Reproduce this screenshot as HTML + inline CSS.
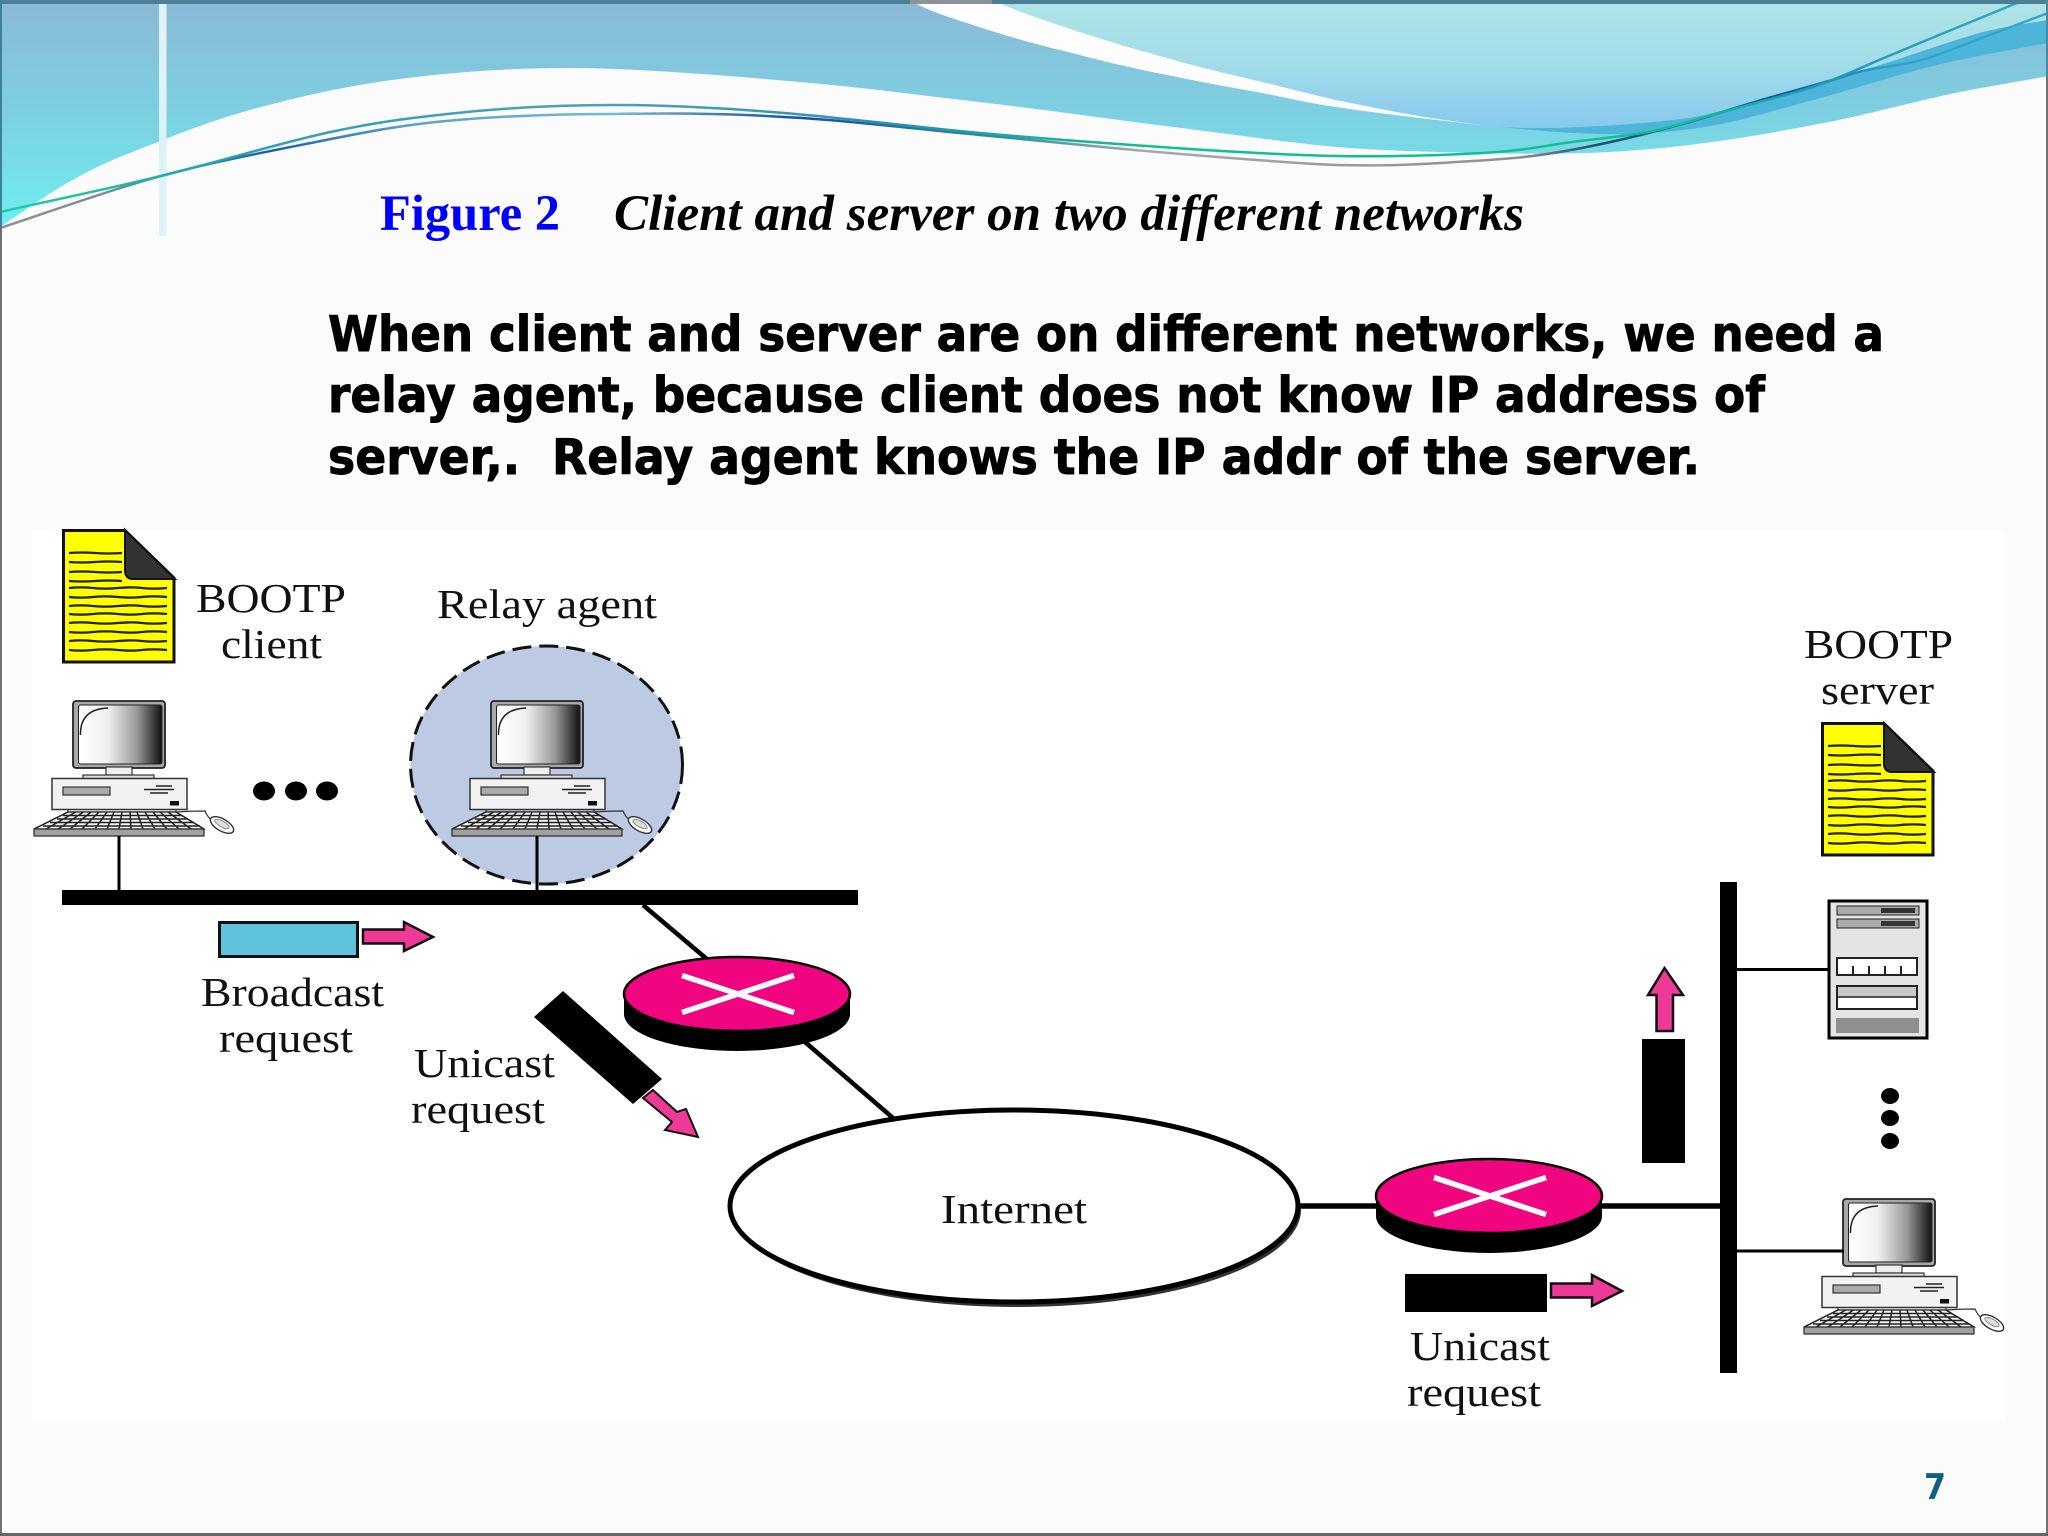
<!DOCTYPE html>
<html lang="en">
<head>
<meta charset="utf-8">
<title>Figure 2 - Client and server on two different networks</title>
<style>
html,body{margin:0;padding:0;background:#fbfbfb;width:2048px;height:1536px;overflow:hidden}
svg{display:block}
.d{font-family:"Liberation Serif",serif;font-size:41px;fill:#111}
.h{font-family:"DejaVu Sans","Liberation Sans",sans-serif;font-weight:bold;font-size:49px;fill:#000;stroke:#000;stroke-width:.9px;white-space:pre}
</style>
</head>
<body>
<svg xmlns="http://www.w3.org/2000/svg" width="2048" height="1536" viewBox="0 0 2048 1536">
<defs>
<linearGradient id="gBlue" x1="0" y1="0" x2="0" y2="230" gradientUnits="userSpaceOnUse">
<stop offset="0" stop-color="#8ab9d6"/><stop offset=".5" stop-color="#7dd0e2"/><stop offset="1" stop-color="#6eeef0"/>
</linearGradient>
<linearGradient id="gLight" x1="0" y1="0" x2="0" y2="130" gradientUnits="userSpaceOnUse">
<stop offset="0" stop-color="#afe4e6"/><stop offset=".5" stop-color="#a2dce8"/><stop offset="1" stop-color="#86c9ee"/>
</linearGradient>
<linearGradient id="gA" x1="0" y1="0" x2="2048" y2="0" gradientUnits="userSpaceOnUse">
<stop offset="0" stop-color="#20c8a8"/><stop offset=".05" stop-color="#20c0a0"/><stop offset=".09" stop-color="#2aa0b0"/><stop offset=".3" stop-color="#4ea0b8"/><stop offset=".44" stop-color="#2a90b0"/><stop offset=".56" stop-color="#10c090"/><stop offset=".82" stop-color="#10c090"/><stop offset=".9" stop-color="#2098b8"/><stop offset="1" stop-color="#35a8c8"/>
</linearGradient>
<linearGradient id="gB" x1="0" y1="0" x2="2048" y2="0" gradientUnits="userSpaceOnUse">
<stop offset="0" stop-color="#909090"/><stop offset=".05" stop-color="#808a90"/><stop offset=".08" stop-color="#2a9ab0"/><stop offset=".13" stop-color="#1a60a8"/><stop offset=".2" stop-color="#5aa0c8"/><stop offset=".3" stop-color="#78b8d8"/><stop offset=".39" stop-color="#1850a0"/><stop offset=".49" stop-color="#2a90a0"/><stop offset=".56" stop-color="#a8a8a8"/><stop offset=".74" stop-color="#909090"/><stop offset=".78" stop-color="#205070"/><stop offset=".87" stop-color="#1850b0"/><stop offset=".92" stop-color="#30a0c8"/><stop offset="1" stop-color="#30a8c8"/>
</linearGradient>
<linearGradient id="gBar" x1="0" y1="0" x2="0" y2="236" gradientUnits="userSpaceOnUse">
<stop offset="0" stop-color="#e4f2f6"/><stop offset=".55" stop-color="#dcf2f6"/><stop offset="1" stop-color="#dcf4f8"/>
</linearGradient>
<linearGradient id="gScreen" x1="0" y1="0" x2="1" y2="0">
<stop offset="0" stop-color="#ffffff"/><stop offset=".35" stop-color="#f0f0f0"/><stop offset=".7" stop-color="#999"/><stop offset="1" stop-color="#111"/>
</linearGradient>

<g id="doc">
<path d="M63.500,530.500 H125 L174,578 V662 H63.500 Z" fill="#ffff00" stroke="#111" stroke-width="3"/>
<path d="M125,530 L175,579 H133 Q125,579 125,570 Z" fill="#333" stroke="#111" stroke-width="2"/>
<g fill="none" stroke="#222" stroke-width="2.300">
<path d="M69,553 q13,-1 26,0 t27,0"/>
<path d="M69,562 q13,1 26,0 t27,0"/>
<path d="M69,572 q13,-1 26,0 t27,0"/>
<path d="M69,581 q13,1 26,0 t27,0"/>
<path d="M69,588 q12,-1.200 24,0 t25,0 t24,0 t25,0"/>
<path d="M69,597 q12,1.200 24,0 t25,0 t24,0 t25,0"/>
<path d="M69,606 q12,-1.200 24,0 t25,0 t24,0 t25,0"/>
<path d="M69,614 q12,1.200 24,0 t25,0 t24,0 t25,0"/>
<path d="M69,623 q12,-1.200 24,0 t25,0 t24,0 t25,0"/>
<path d="M69,632 q12,1.200 24,0 t25,0 t24,0 t25,0"/>
<path d="M69,641 q12,-1.200 24,0 t25,0 t24,0 t25,0"/>
<path d="M69,650 q12,1.200 24,0 t25,0 t24,0 t25,0"/>
</g>
</g>

<g id="pc">
<rect x="73" y="701" width="92" height="67" rx="3" fill="#a8a8a8" stroke="#222" stroke-width="1.800"/>
<rect x="78.500" y="705" width="83.500" height="59" rx="2" fill="url(#gScreen)" stroke="#222" stroke-width="1"/>
<path d="M80.500,735 Q80,709 108,708" fill="none" stroke="#222" stroke-width="1.500"/>
<rect x="106" y="767" width="26" height="8" fill="#eee" stroke="#333" stroke-width="1.200"/>
<rect x="83" y="775" width="71" height="3.500" fill="#ddd" stroke="#333" stroke-width="1.200"/>
<rect x="52" y="778.500" width="135" height="31" fill="#f2f2f2" stroke="#333" stroke-width="1.500"/>
<rect x="63" y="787" width="47" height="8" fill="#aaa" stroke="#333" stroke-width="1.200"/>
<path d="M144,789.500 H174 M156,786 H172 M150,793 H168" stroke="#222" stroke-width="1.500" fill="none"/>
<rect x="170" y="801" width="9" height="4.500" fill="#111"/>
<path d="M68,810 L68,812 H176 V810" fill="none" stroke="#333" stroke-width="1.200"/>
<path d="M68,812 H176 L204,829 H34 Z" fill="#f4f4f4" stroke="#222" stroke-width="1.200"/>
<path d="M63,815.500 H182 M57,819 H188 M50,822.500 H194 M43,826 H200
M68,812 L34,829 M75.700,812 L46,829 M83.400,812 L58,829 M91,812 L70,829 M99,812 L82,829 M107,812 L95,829 M114,812 L107,829 M122,812 L119,829 M130,812 L131,829 M137,812 L143,829 M145,812 L155,829 M153,812 L167,829 M160,812 L179,829 M168,812 L191,829 M176,812 L204,829"
 fill="none" stroke="#222" stroke-width="1.500"/>
<rect x="34" y="829" width="170" height="7" fill="#a0a0a0" stroke="#333" stroke-width="1.300"/>
<path d="M176,812 Q190,811 205,811 Q208,818 212,820" fill="none" stroke="#333" stroke-width="1.200"/>
<ellipse cx="222" cy="825" rx="13" ry="6" transform="rotate(30 222 825)" fill="#fff" stroke="#333" stroke-width="1.400"/>
<ellipse cx="222" cy="824" rx="8" ry="3" transform="rotate(30 222 824)" fill="#ddd" stroke="#777" stroke-width=".8"/>
</g>

<g id="router">
<path d="M0,0 V20 A113,37 0 0 0 226,20 V0 Z" fill="#000"/>
<ellipse cx="113" cy="0" rx="113" ry="37" fill="#f0047f" stroke="#000" stroke-width="2.500"/>
<path d="M58,-18.500 L170,18.500 M170,-18.500 L58,18.500" stroke="#fff" stroke-width="5.500" fill="none"/>
</g>
</defs>

<rect width="2048" height="1536" fill="#fbfbfb"/>
<rect x="32" y="529" width="1973" height="892" fill="#ffffff"/>

<!-- top wave shapes -->
<path d="M0,0 H2048 V76 C2030,80 1975,88 1937,97 C1897,106 1853,118 1813,125 C1772,133 1730,140 1689,145 C1655,149 1620,152 1586,153 C1551,154 1517,154 1483,153 C1434,152 1385,151 1336,147 C1283,142 1216,132 1157,125 C1097,117 1038,109 979,102 C919,95 868,88 800,82 C731,76 636,68 568,68 C503,68 443,73 392,80 C341,87 299,97 261,107 C223,117 193,128 163,140 C132,152 105,162 78,177 C51,191 13,219 0,227 Z" fill="url(#gBlue)"/>
<path d="M909,0 C930,12 955,19 979,27 C1010,37 1038,45 1068,52 C1098,60 1127,67 1157,73 C1187,79 1216,85 1246,90 C1276,95 1306,103 1336,107 C1390,115 1445,121 1500,127 C1475,124 1450,121 1425,117 C1395,112 1366,106 1336,100 C1306,93 1276,85 1246,78 C1216,71 1187,64 1157,55 C1127,47 1098,38 1068,28 C1040,19 1017,11 992,0 Z" fill="#fdfdfd"/>
<path d="M992,0 C1017,11 1040,19 1068,28 C1098,38 1127,47 1157,55 C1187,64 1216,71 1246,78 C1276,85 1306,93 1336,100 C1366,106 1395,112 1425,117 C1450,121 1475,124 1500,127 C1540,130 1620,127 1689,118 C1720,112 1745,105 1772,97 C1815,85 1855,73 1896,60 C1925,50 1950,42 1979,33 C2002,27 2025,24 2048,20 V0 Z" fill="url(#gLight)"/>
<path d="M1500,127 C1540,130 1620,127 1689,118 C1720,112 1745,105 1772,97 C1815,85 1855,73 1896,60 C1925,50 1950,42 1979,33 C2002,27 2025,24 2048,20 V43 C2010,50 1975,56 1937,65 C1895,75 1855,89 1813,100 C1775,110 1740,122 1698,128 C1665,133 1630,135 1598,134 C1565,133 1530,130 1500,127 Z" fill="#4db5da"/>

<rect x="159" y="0" width="7.500" height="236" fill="url(#gBar)"/>

<path d="M0,228 C26,220 103,192 157,177 C211,162 276,150 326,140 C376,130 409,124 457,120 C505,116 559,114 614,114 C669,113 723,113 784,117 C845,120 915,129 980,135 C1045,141 1098,147 1157,152 C1216,157 1289,163 1336,165 C1378,166 1410,165 1441,163 C1472,161 1496,160 1524,157 C1551,154 1578,149 1606,143 C1634,137 1661,130 1689,122 C1717,114 1744,105 1772,97 C1800,89 1827,82 1855,73 C1882,65 1905,67 1937,55 C1969,43 2029,20 2048,13" fill="none" stroke="url(#gB)" stroke-width="2.500"/>
<path d="M0,212 C26,206 103,190 157,177 C211,164 276,144 326,133 C376,122 409,118 457,113 C505,108 559,105 614,105 C669,105 723,108 784,113 C845,118 915,127 980,133 C1045,139 1116,144 1175,148 C1234,152 1285,155 1336,156 C1387,157 1445,155 1483,153 C1521,151 1537,147 1565,143 C1593,139 1620,137 1648,132 C1675,127 1702,117 1730,110 C1758,102 1785,96 1813,87 C1841,78 1861,67 1896,53 C1931,38 2003,9 2024,0" fill="none" stroke="url(#gA)" stroke-width="2.500"/>

<!-- frame -->
<rect x="0" y="0" width="2048" height="4" fill="#4a7f96"/>
<rect x="910" y="0" width="82" height="4" fill="#8c9498"/>
<rect x="0" y="0" width="2" height="228" fill="#3f7f98"/>
<rect x="0" y="228" width="2" height="1308" fill="#707070"/>
<rect x="2046" y="0" width="2" height="78" fill="#4a8a9c"/>
<rect x="2046" y="78" width="2" height="1458" fill="#707070"/>
<rect x="0" y="1533" width="2048" height="3" fill="#666"/>

<!-- title -->
<text x="380" y="230" font-family="'Liberation Serif',serif" font-weight="bold" font-size="51" fill="#0000ff" textLength="180" lengthAdjust="spacingAndGlyphs">Figure 2</text>
<text x="614" y="230" font-family="'Liberation Serif',serif" font-weight="bold" font-style="italic" font-size="51" fill="#000" textLength="910" lengthAdjust="spacingAndGlyphs">Client and server on two different networks</text>

<text class="h" x="328" y="351" textLength="1556" lengthAdjust="spacingAndGlyphs">When client and server are on different networks, we need a</text>
<text class="h" x="328" y="412" textLength="1437" lengthAdjust="spacingAndGlyphs">relay agent, because client does not know IP address of</text>
<text class="h" x="328" y="474" textLength="1372" lengthAdjust="spacingAndGlyphs" xml:space="preserve">server,.  Relay agent knows the IP addr of the server.</text>

<!-- relay circle -->
<ellipse cx="546.500" cy="765" rx="136" ry="119" fill="#bccbe3" stroke="#111" stroke-width="3" stroke-dasharray="19 8"/>

<!-- left docs + labels -->
<use href="#doc"/>
<text class="d" x="196" y="612" textLength="150" lengthAdjust="spacingAndGlyphs">BOOTP</text>
<text class="d" x="221" y="658" textLength="101" lengthAdjust="spacingAndGlyphs">client</text>
<text class="d" x="437" y="618" textLength="220" lengthAdjust="spacingAndGlyphs">Relay agent</text>

<!-- computers -->
<use href="#pc"/>
<use href="#pc" x="418" y="0"/>
<use href="#pc" x="1770" y="498"/>

<ellipse cx="264" cy="791" rx="11" ry="9.500" fill="#000"/>
<ellipse cx="296" cy="791" rx="11" ry="9.500" fill="#000"/>
<ellipse cx="327" cy="791" rx="11" ry="9.500" fill="#000"/>

<!-- left bus -->
<path d="M119,836 V892 M537,836 V892" stroke="#000" stroke-width="3"/>
<rect x="62" y="890" width="796" height="15" fill="#000"/>

<!-- router 1 links -->
<path d="M643,905 L708,960 M805,1042 L893,1118" stroke="#000" stroke-width="4.500" fill="none"/>

<!-- broadcast packet -->
<rect x="219.500" y="922.500" width="138" height="34" fill="#5fc3dc" stroke="#111" stroke-width="3"/>
<path d="M363,929.500 H404 V922 L433,937 L404,951 V943.500 H363 Z" fill="#ec3a96" stroke="#111" stroke-width="2.500"/>
<text class="d" x="201" y="1006" textLength="183" lengthAdjust="spacingAndGlyphs">Broadcast</text>
<text class="d" x="219" y="1052" textLength="134" lengthAdjust="spacingAndGlyphs">request</text>

<!-- unicast diagonal -->
<path d="M563,991 L662,1079 L633,1104 L534,1017 Z" fill="#000"/>
<path d="M653,1090 L677,1112 L686,1109 L698,1137 L665,1130 L672,1122 L643,1098 Z" fill="#ec3a96" stroke="#111" stroke-width="2"/>
<text class="d" x="414" y="1077" textLength="141" lengthAdjust="spacingAndGlyphs">Unicast</text>
<text class="d" x="411" y="1123" textLength="134" lengthAdjust="spacingAndGlyphs">request</text>

<use href="#router" x="624" y="994"/>

<!-- internet -->
<path d="M1299,1206 H1380 M1600,1206 H1722" stroke="#000" stroke-width="5.500" fill="none"/>
<ellipse cx="1017" cy="1210" rx="284" ry="97" fill="#333"/>
<ellipse cx="1014" cy="1206" rx="284" ry="96" fill="#fff" stroke="#000" stroke-width="5"/>
<text class="d" x="941" y="1223" textLength="146" lengthAdjust="spacingAndGlyphs">Internet</text>

<use href="#router" x="1376" y="1196"/>

<!-- right bus -->
<rect x="1720" y="882" width="17" height="491" fill="#000"/>
<path d="M1737,969.500 H1830 M1737,1251 H1844" stroke="#000" stroke-width="3" fill="none"/>

<!-- up packet -->
<rect x="1642" y="1039" width="43" height="124" fill="#000"/>
<path d="M1656.500,1031 V995 H1648 L1664.500,968 L1683,995 H1673 V1031 Z" fill="#ec3a96" stroke="#111" stroke-width="2.500"/>

<!-- bottom packet -->
<rect x="1405" y="1274" width="142" height="38" fill="#000"/>
<path d="M1551,1283.500 H1592 V1275 L1622,1291 L1592,1306 V1297.500 H1551 Z" fill="#ec3a96" stroke="#111" stroke-width="2.500"/>
<text class="d" x="1410" y="1360" textLength="140" lengthAdjust="spacingAndGlyphs">Unicast</text>
<text class="d" x="1407" y="1406" textLength="134" lengthAdjust="spacingAndGlyphs">request</text>

<!-- BOOTP server side -->
<text class="d" x="1804" y="658" textLength="149" lengthAdjust="spacingAndGlyphs">BOOTP</text>
<text class="d" x="1821" y="704" textLength="113" lengthAdjust="spacingAndGlyphs">server</text>
<use href="#doc" x="1759" y="193"/>

<!-- server rack -->
<rect x="1829" y="901" width="98" height="137" fill="#e4e4e4" stroke="#000" stroke-width="3"/>
<rect x="1837" y="906" width="82" height="9" fill="#aaa" stroke="#222" stroke-width="1"/>
<rect x="1881" y="908" width="34" height="5" fill="#333"/>
<rect x="1837" y="919" width="82" height="9" fill="#aaa" stroke="#222" stroke-width="1"/>
<rect x="1881" y="921" width="34" height="5" fill="#333"/>
<rect x="1837" y="958" width="80" height="17" fill="#fff" stroke="#222" stroke-width="2"/>
<path d="M1853,966 V975 M1869,966 V975 M1885,966 V975 M1901,966 V975" stroke="#222" stroke-width="2"/>
<rect x="1837" y="986" width="80" height="23" fill="#fff" stroke="#222" stroke-width="2"/>
<rect x="1838" y="987" width="78" height="10" fill="#c8c8c8"/>
<path d="M1837,997 H1917" stroke="#222" stroke-width="1.500"/>
<rect x="1836" y="1018" width="83" height="15" fill="#8f8f8f"/>

<ellipse cx="1890" cy="1096" rx="9" ry="8" fill="#000"/>
<ellipse cx="1890" cy="1118" rx="9" ry="8" fill="#000"/>
<ellipse cx="1890" cy="1141" rx="9" ry="8" fill="#000"/>

<!-- page number -->
<text x="1924" y="1499" font-family="'DejaVu Sans',sans-serif" font-weight="bold" font-size="36" fill="#0f6080" textLength="22" lengthAdjust="spacingAndGlyphs">7</text>
</svg>
</body>
</html>
